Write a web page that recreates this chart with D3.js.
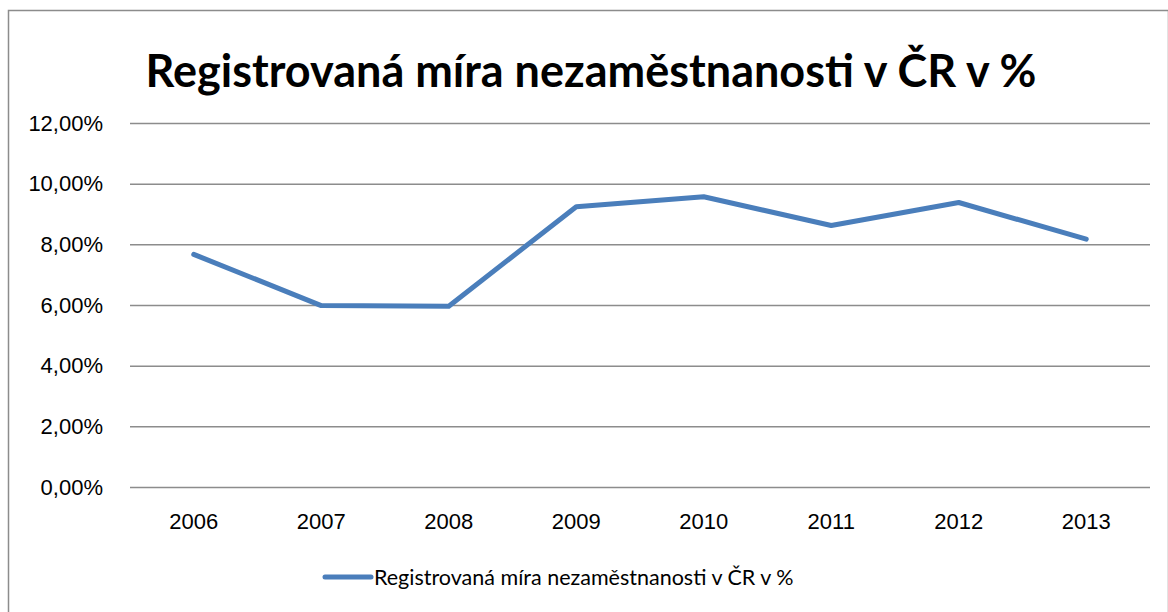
<!DOCTYPE html>
<html>
<head>
<meta charset="utf-8">
<script src="https://cdn.jsdelivr.net/npm/d3@7"></script>
<style>
  body { margin: 0; background: #fff; }
  svg { font-family: Lato, "Open Sans", sans-serif; }
</style>
</head>
<body>
<div id="chart"></div>
<script>
// data
var years = ["2006", "2007", "2008", "2009", "2010", "2011", "2012", "2013"];
var rates = [7.67, 5.98, 5.96, 9.24, 9.57, 8.62, 9.38, 8.17];
var yTicks = [0, 2, 4, 6, 8, 10, 12];
var seriesName = "Registrovaná míra nezaměstnanosti v ČR v %";
var titleText = "Registrovaná míra nezaměstnanosti v ČR v %";

var width = 1168, height = 612;
var margin = {left: 130, right: 18, top: 123, bottom: 125};

var svg = d3.select("#chart").append("svg")
  .attr("width", width)
  .attr("height", height);

// outer chart frame
svg.append("rect")
  .attr("x", 8.5).attr("y", 10.5)
  .attr("width", width - 8).attr("height", height)
  .attr("fill", "none")
  .attr("stroke", "#8c8c8c")
  .attr("stroke-width", 1.5);

svg.append("text")
  .attr("x", 591).attr("y", 87)
  .attr("text-anchor", "middle")
  .style("font-size", "45px")
  .style("font-weight", "bold")
  .text(titleText);

var x = d3.scaleBand()
  .domain(years)
  .range([margin.left, width - margin.right]);

var y = d3.scaleLinear()
  .domain([0, 12])
  .range([height - margin.bottom, margin.top]);

var fmt = function (d) { return d3.format(".2f")(d).replace(".", ",") + "%"; };

// gridlines + y labels
var yAxis = svg.append("g")
  .attr("transform", "translate(" + margin.left + ",0)")
  .call(d3.axisLeft(y).tickValues(yTicks).tickFormat(fmt)
    .tickSize(-(width - margin.left - margin.right)).tickPadding(27));
yAxis.select(".domain").remove();
yAxis.selectAll(".tick line").attr("stroke", "#8c8c8c").attr("stroke-width", 1.5);
yAxis.selectAll(".tick text")
  .style("font-size", "22px")
  .attr("fill", "#000");

// x labels
var xAxis = svg.append("g")
  .attr("transform", "translate(0," + (height - margin.bottom) + ")")
  .call(d3.axisBottom(x).tickSize(0).tickPadding(26));
xAxis.select(".domain").remove();
xAxis.selectAll(".tick text")
  .style("font-size", "22px")
  .attr("fill", "#000");

var line = d3.line()
  .x(function (d, i) { return x(years[i]) + x.bandwidth() / 2; })
  .y(function (d) { return y(d); });

svg.append("path")
  .datum(rates)
  .attr("d", line)
  .attr("fill", "none")
  .attr("stroke", "#4a7ebb")
  .attr("stroke-width", 5)
  .attr("stroke-linecap", "round")
  .attr("stroke-linejoin", "round");

// legend
var legend = svg.append("g").attr("transform", "translate(325,577)");
legend.append("line")
  .attr("x1", 0).attr("x2", 46)
  .attr("stroke", "#4a7ebb")
  .attr("stroke-width", 5)
  .attr("stroke-linecap", "round");
legend.append("text")
  .attr("x", 49).attr("y", 8)
  .style("font-size", "21.5px")
  .text(seriesName);
</script>
</body>
</html>
